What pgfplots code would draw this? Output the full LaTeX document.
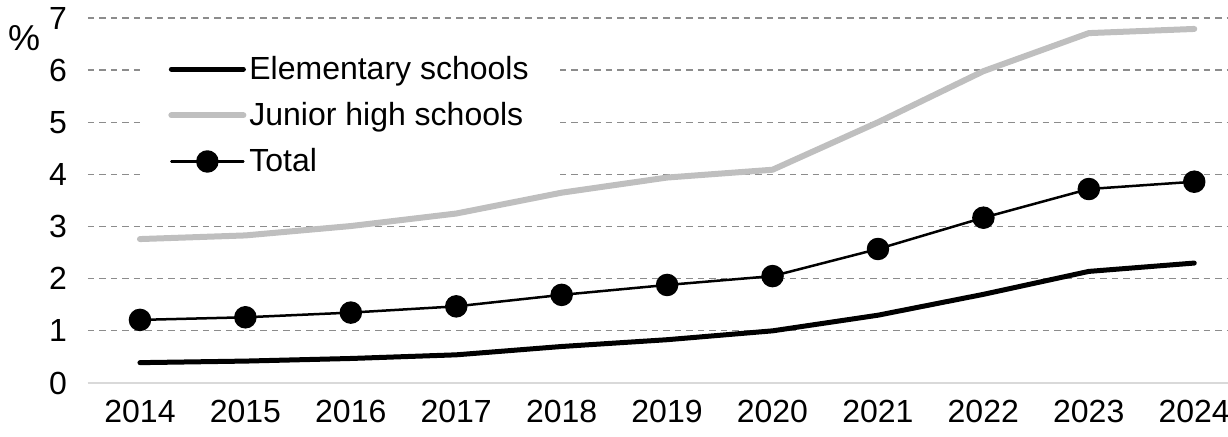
\documentclass[border=0pt]{standalone}
\usepackage{fontspec}
\setmainfont{Liberation Sans}
\usepackage{pgfplots}
\pgfplotsset{compat=1.18}
\definecolor{gridgray}{HTML}{8C8C8C}
\definecolor{basegray}{HTML}{D9D9D9}
\definecolor{jhgray}{HTML}{BFBFBF}
\begin{document}
\begin{tikzpicture}
\path[use as bounding box] (-44pt,-27pt) rectangle (570pt,191.5pt);
\begin{axis}[
  scale only axis,
  width=570pt, height=182.5pt,
  xmin=2013.507, xmax=2024.32,
  ymin=0, ymax=7,
  xtick={2014,...,2024},
  ytick={0,...,7},
  /pgf/number format/assume math mode=true,
  /pgf/number format/1000 sep={},
  tick style={draw=none},
  axis line style={draw=none},
  ymajorgrids,
  grid style={draw=gridgray, line width=0.65pt, dash pattern=on 3.25pt off 2.5pt},
  tick label style={font=\fontsize{16}{19}\selectfont},
  yticklabel style={xshift=-7pt},
  xticklabel style={yshift=-5pt},
  clip=false,
  legend cell align=left,
  legend style={at={(rel axis cs:0.0456,0.938)}, anchor=north west, fill=white, draw=none,
    font=\fontsize{16}{19}\selectfont, inner xsep=14pt, inner ysep=6pt, row sep=7pt,
    nodes={inner sep=1.5pt}},
  legend image code/.code={\draw[mark repeat=2,mark phase=2,#1] plot coordinates {(0pt,0pt) (18pt,0pt) (36pt,0pt)};},
  every axis plot/.append style={line cap=round, line join=round},
]
\draw[basegray, line width=1pt] (rel axis cs:0,0) -- (rel axis cs:1,0);
\addplot[black, line width=2.5pt, mark=none] coordinates {
(2014,0.39) (2015,0.42) (2016,0.47) (2017,0.54) (2018,0.70) (2019,0.83) (2020,1.00) (2021,1.30) (2022,1.70) (2023,2.14) (2024,2.30)};
\addlegendentry{Elementary schools}
\addplot[jhgray, line width=3pt, mark=none] coordinates {
(2014,2.76) (2015,2.83) (2016,3.01) (2017,3.25) (2018,3.65) (2019,3.94) (2020,4.09) (2021,5.00) (2022,5.98) (2023,6.71) (2024,6.79)};
\addlegendentry{Junior high schools}
\addplot[black, line width=1.25pt, mark=*, mark size=5pt, mark options={solid, fill=black}] coordinates {
(2014,1.21) (2015,1.26) (2016,1.35) (2017,1.47) (2018,1.69) (2019,1.88) (2020,2.05) (2021,2.57) (2022,3.17) (2023,3.72) (2024,3.86)};
\addlegendentry{Total}
\node[font=\fontsize{18}{21}\selectfont, anchor=center] at (rel axis cs:-0.056,0.945) {\%};
\end{axis}
\end{tikzpicture}
\end{document}
